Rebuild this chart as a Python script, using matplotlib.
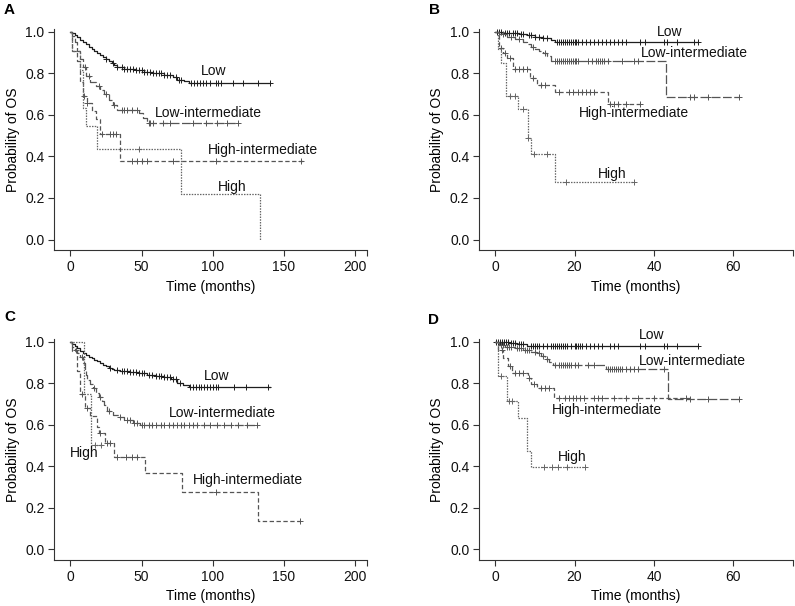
import matplotlib.pyplot as plt
import numpy as np

plt.rcParams['font.family'] = ['Liberation Sans', 'DejaVu Sans']

groups = ["Low", "Low-intermediate", "High-intermediate", "High"]

# ---- panel A: step times, survival, censor times
a_low_t = [0, 1, 3, 5, 7, 9, 11, 13, 15, 17, 19, 21, 23, 25, 27, 29, 31, 33, 38, 46, 52, 58, 66, 72, 75, 80, 83, 140]
a_low_s = [1.0, 0.995, 0.985, 0.975, 0.96, 0.95, 0.94, 0.93, 0.92, 0.91, 0.90, 0.89, 0.88, 0.87, 0.86, 0.85,
           0.84, 0.83, 0.82, 0.815, 0.805, 0.80, 0.795, 0.785, 0.77, 0.765, 0.755, 0.755]
a_low_c = [25, 30, 33, 36, 38, 40, 42, 44, 46, 48, 50, 52, 54, 56, 58, 60, 62, 64, 66, 68, 70, 74, 76, 78,
           85, 87, 89, 91, 93, 95, 98, 102, 104, 106, 114, 121, 132, 140]
a_li_t = [0, 1, 3, 5, 7, 9, 11, 14, 18, 21, 24, 27, 30, 33, 48, 51, 54, 118]
a_li_s = [1.0, 0.98, 0.95, 0.91, 0.87, 0.83, 0.79, 0.76, 0.74, 0.72, 0.70, 0.67, 0.65, 0.625, 0.61, 0.585, 0.56, 0.56]
a_li_c = [10, 13, 20, 25, 31, 36, 38, 40, 43, 47, 55, 56, 58, 65, 70, 86, 95, 103, 110, 118]
a_hi_t = [0, 1, 5, 7, 9, 12, 15, 18, 21, 35, 163]
a_hi_s = [1.0, 0.91, 0.86, 0.76, 0.69, 0.66, 0.62, 0.58, 0.51, 0.376, 0.376]
a_hi_c = [9.5, 12, 22, 28, 30, 32, 43, 47, 50, 54, 72, 102, 162]
a_h_t = [0, 1, 7, 9, 11, 19, 78, 133]
a_h_s = [1.0, 0.909, 0.818, 0.636, 0.545, 0.436, 0.218, 0.0]
a_h_c = [48]

# ---- panel B
b_low_t = [0, 2, 4, 6, 8, 10, 12, 14, 15, 51]
b_low_s = [1.0, 0.997, 0.993, 0.988, 0.984, 0.976, 0.969, 0.96, 0.952, 0.952]
b_low_c = [0.5, 1, 1.5, 2.5, 3, 3.5, 4.5, 5, 5.5, 6.5, 7, 8.5, 9, 10, 11, 12, 13, 15.5, 16, 16.5, 17, 17.5,
           18, 18.5, 19, 19.5, 20, 20.5, 21, 22, 23, 24, 25, 26, 27, 28, 29, 30, 31, 32, 33, 36.5, 37.8,
           42.4, 43.2, 45.8, 50, 51]
b_li_t = [0, 1, 3, 5, 7, 8, 9, 10, 11, 12, 13, 14, 43, 61.5]
b_li_s = [1.0, 0.99, 0.978, 0.965, 0.95, 0.94, 0.93, 0.92, 0.91, 0.90, 0.885, 0.86, 0.685, 0.685]
b_li_c = [2, 4, 6, 9.5, 12.5, 15, 15.5, 16, 16.5, 17, 17.5, 18, 18.5, 19, 19.5, 20, 20.5, 21, 23.5, 24.5,
          25.5, 26, 26.5, 27, 27.5, 28.5, 32, 35, 36, 49, 50, 53.5, 61.5]
b_hi_t = [0, 1, 2, 3, 4.5, 8.8, 10.5, 15, 28.5, 36.5]
b_hi_s = [1.0, 0.925, 0.90, 0.875, 0.822, 0.78, 0.745, 0.713, 0.653, 0.653]
b_hi_c = [1.5, 2.5, 3.8, 5, 6, 7, 8, 9.5, 11.5, 12.5, 16, 18.5, 19.5, 21, 22, 23, 24, 25, 29, 30, 31, 33, 36.5]
b_h_t = [0, 0.8, 1.5, 2.8, 5.9, 8.3, 9, 15.1, 34.9]
b_h_s = [1.0, 0.92, 0.85, 0.69, 0.63, 0.49, 0.41, 0.276, 0.276]
b_h_c = [3.8, 5, 7.1, 8.4, 9.7, 13, 17.8, 34.9]

# ---- panel C
c_low_t = [0, 1, 3, 5, 7, 9, 11, 13, 15, 17, 19, 21, 23, 25, 27, 29, 31, 35, 42, 48, 54, 60, 66, 71, 75, 79, 83, 140]
c_low_s = [1.0, 0.99, 0.98, 0.97, 0.955, 0.945, 0.935, 0.928, 0.92, 0.912, 0.905, 0.897, 0.89, 0.882,
           0.875, 0.868, 0.862, 0.858, 0.855, 0.85, 0.84, 0.835, 0.83, 0.82, 0.80, 0.79, 0.78, 0.78]
c_low_c = [28, 33, 36, 38, 40, 42, 44, 46, 48, 50, 52, 55, 57, 60, 62, 64, 66, 68, 70, 72, 74, 77, 84, 86,
           88, 90, 92, 94, 96, 98, 100, 102, 104, 115, 123, 139]
c_li_t = [0, 1, 3, 5, 7, 9, 10, 11, 12, 14, 16, 18, 20, 22, 24, 26, 30, 34, 38, 44, 49, 131]
c_li_s = [1.0, 0.975, 0.96, 0.945, 0.925, 0.895, 0.865, 0.84, 0.815, 0.795, 0.775, 0.755, 0.735, 0.715,
          0.695, 0.665, 0.647, 0.635, 0.623, 0.61, 0.60, 0.60]
c_li_c = [4, 8, 17, 21, 27, 35, 40, 42, 45, 47, 50, 52, 55, 57, 60, 64, 66, 69, 72, 75, 78, 80, 83, 86, 89,
          94, 98, 103, 108, 113, 118, 124, 131]
c_hi_t = [0, 1, 4.5, 7, 10, 14, 18.5, 20, 24.5, 30.4, 52.6, 78.4, 132, 161]
c_hi_s = [1.0, 0.955, 0.86, 0.75, 0.68, 0.64, 0.59, 0.56, 0.51, 0.446, 0.369, 0.274, 0.136, 0.136]
c_hi_c = [8, 12, 21, 26, 28, 33, 39, 43, 47, 102, 161]
c_h_t = [0, 9.4, 14.5, 22.5]
c_h_s = [1.0, 0.75, 0.5, 0.5]
c_h_c = [17.5, 21.5]

# ---- panel D
d_low_t = [0, 3.5, 5.5, 8, 51]
d_low_s = [1.0, 0.995, 0.988, 0.981, 0.981]
d_low_c = [0.3, 0.8, 1.2, 1.7, 2.2, 2.8, 3.2, 4, 4.5, 5, 6, 6.5, 7, 9, 9.5, 10, 10.5, 11, 12, 13, 14, 14.5,
           15, 15.5, 16, 16.5, 17, 17.5, 18, 19, 20, 20.5, 21, 21.5, 22, 23, 24, 25, 26, 27, 29, 30, 31,
           36.5, 37.8, 42.4, 43.2, 45.8, 51]
d_li_t = [0, 1, 2.5, 5, 7, 9, 10.5, 11.5, 12.5, 13.5, 14.5, 28, 43.5, 61.5]
d_li_s = [1.0, 0.984, 0.976, 0.968, 0.96, 0.952, 0.944, 0.93, 0.915, 0.90, 0.888, 0.867, 0.724, 0.724]
d_li_c = [1.5, 2, 3, 3.5, 4, 5.5, 6, 6.5, 7.5, 8, 8.5, 10, 11, 12, 13, 15, 16, 16.5, 17, 17.5, 18, 18.5,
          19, 20, 21, 23.5, 25, 28.5, 29, 29.5, 30, 30.5, 31, 31.5, 32, 33, 34, 35, 36, 42.5, 49, 53.5, 61.5]
d_hi_t = [0, 0.7, 2, 3.3, 4.3, 8.3, 9, 10.5, 14.8, 49]
d_hi_s = [1.0, 0.96, 0.92, 0.883, 0.85, 0.825, 0.795, 0.775, 0.73, 0.73]
d_hi_c = [1.7, 3.8, 5, 6, 7, 8.6, 9.8, 11.5, 12.5, 13.5, 16, 17.5, 18.5, 19.5, 20.5, 21.5, 22.5, 25, 26,
          27, 30, 33, 36, 40, 48]
d_h_t = [0, 0.7, 3, 5.9, 8, 9, 22.7]
d_h_s = [1.0, 0.835, 0.716, 0.634, 0.475, 0.398, 0.398]
d_h_c = [1.5, 3.5, 4.3, 12.2, 14.3, 15.9, 18, 22.7]

panels = {
    "A": [(a_low_t, a_low_s, a_low_c), (a_li_t, a_li_s, a_li_c), (a_hi_t, a_hi_s, a_hi_c), (a_h_t, a_h_s, a_h_c)],
    "B": [(b_low_t, b_low_s, b_low_c), (b_li_t, b_li_s, b_li_c), (b_hi_t, b_hi_s, b_hi_c), (b_h_t, b_h_s, b_h_c)],
    "C": [(c_low_t, c_low_s, c_low_c), (c_li_t, c_li_s, c_li_c), (c_hi_t, c_hi_s, c_hi_c), (c_h_t, c_h_s, c_h_c)],
    "D": [(d_low_t, d_low_s, d_low_c), (d_li_t, d_li_s, d_li_c), (d_hi_t, d_hi_s, d_hi_c), (d_h_t, d_h_s, d_h_c)],
}

# label anchors (time, survival) for each group name
label_pos = {
    "A": [(91.7, 0.81), (59.6, 0.61), (96.4, 0.43), (103.4, 0.253)],
    "B": [(40.7, 1.0), (36.7, 0.90), (21.1, 0.61), (25.8, 0.318)],
    "C": [(94, 0.836), (69, 0.655), (85.8, 0.334), (-0.5, 0.466)],
    "D": [(36.1, 1.032), (36.2, 0.909), (14.3, 0.671), (15.7, 0.446)],
}

styles = [
    dict(color="#1e1e1e", lw=0.9, ls="-"),
    dict(color="#555555", lw=0.9, dashes=(7, 2)),
    dict(color="#555555", lw=0.9, dashes=(3.5, 2)),
    dict(color="#666666", lw=0.9, dashes=(1.2, 1)),
]

fig = plt.figure(figsize=(7.95, 6.06), dpi=100)
W, H = 795, 606

boxes = {"A": (54.3, 29.5), "B": (479, 29.5), "C": (54.3, 339.2), "D": (479, 339.2)}
widths = {"A": 313, "B": 313.7, "C": 313, "D": 313.7}
xlims = {"A": (-11.2, 208.4), "B": (-4.03, 74.9), "C": (-11.2, 208.4), "D": (-4.03, 74.9)}
xticks = {"A": [0, 50, 100, 150, 200], "B": [0, 20, 40, 60], "C": [0, 50, 100, 150, 200], "D": [0, 20, 40, 60]}
letter_xy = {"A": (4, 10), "B": (429, 10), "C": (4, 317), "D": (428, 320)}

for key in ["A", "B", "C", "D"]:
    x0, y0 = boxes[key]
    ax = fig.add_axes([x0 / W, 1 - (y0 + 221) / H, widths[key] / W, 221 / H])
    for (t, s, cens), st in zip(panels[key], styles):
        t = np.asarray(t, float)
        s = np.asarray(s, float)
        ax.step(t, s, where="post", **st)
        cens = np.asarray(cens, float)
        idx = np.searchsorted(t, cens, side="right") - 1
        ax.plot(cens, s[idx], "+", color=st["color"], ms=4.5, mew=0.7, ls="none")
    for i, name in enumerate(groups):
        tx, ty = label_pos[key][i]
        ax.text(tx, ty, name, fontsize=10, ha="left", va="center", color="#111111")
    ax.set_xlim(*xlims[key])
    ax.set_ylim(-0.053, 1.012)
    ax.set_xticks(xticks[key])
    ax.set_xticks([xlims[key][1]], minor=True)
    ax.set_yticks([0, 0.2, 0.4, 0.6, 0.8, 1.0])
    ax.set_yticklabels(["0.0", "0.2", "0.4", "0.6", "0.8", "1.0"])
    ax.spines["top"].set_visible(False)
    ax.spines["right"].set_visible(False)
    for sp in ["left", "bottom"]:
        ax.spines[sp].set_linewidth(0.8)
        ax.spines[sp].set_color("#333333")
    ax.tick_params(which="both", direction="out", length=4, width=0.8, color="#333333",
                   labelsize=10, labelcolor="#111111", pad=3)
    ax.set_xlabel("Time (months)", fontsize=10, labelpad=4)
    ax.set_ylabel("Probability of OS", fontsize=10, labelpad=4)
    lx, ly = letter_xy[key]
    fig.text(lx / W, 1 - ly / H, key, fontsize=11, fontweight="bold", ha="left", va="center")

fig.savefig("out.png", dpi=100)
